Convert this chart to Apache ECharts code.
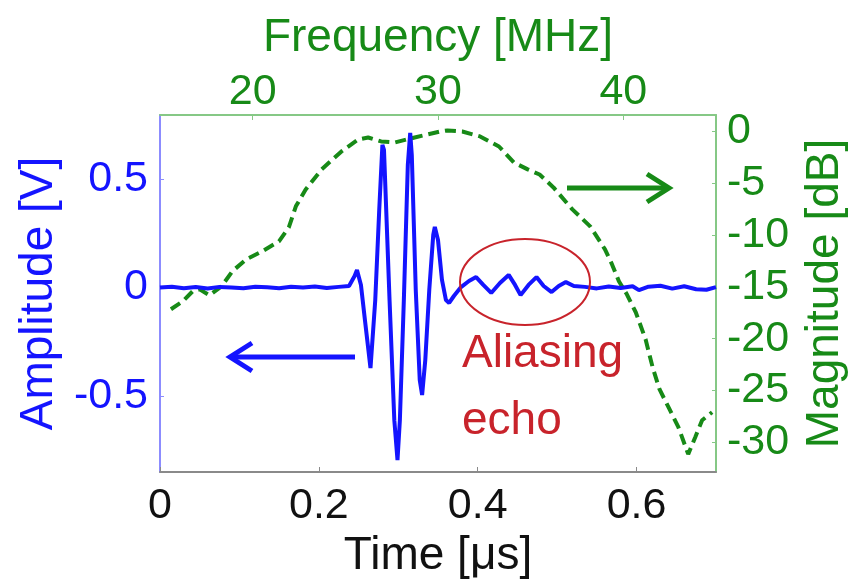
<!DOCTYPE html>
<html>
<head>
<meta charset="utf-8">
<script src="https://cdn.jsdelivr.net/npm/echarts@6/dist/echarts.min.js"></script>
<style>
  html, body { margin: 0; padding: 0; background: #fff; }
  #main { width: 856px; height: 585px; }
</style>
</head>
<body>
<div id="main"></div>
<script>
// 时域信号 (blue)
var timeUs = [0, 0.015, 0.03, 0.045, 0.06, 0.075, 0.09, 0.105, 0.12, 0.135, 0.15, 0.165, 0.18, 0.195, 0.21, 0.225, 0.238,
  0.245, 0.248, 0.253, 0.258, 0.265, 0.271, 0.276, 0.28, 0.282, 0.289, 0.295, 0.299, 0.302, 0.307, 0.312, 0.315, 0.317,
  0.322, 0.327, 0.33, 0.334, 0.339, 0.344, 0.346, 0.35, 0.355, 0.36, 0.364, 0.37, 0.379, 0.389, 0.398, 0.407, 0.417,
  0.428, 0.439, 0.447, 0.454, 0.464, 0.474, 0.483, 0.493, 0.502, 0.511, 0.521, 0.535, 0.55, 0.565, 0.58, 0.595, 0.603,
  0.615, 0.63, 0.645, 0.66, 0.675, 0.688, 0.7];
var ampV = [0, 0.004, -0.003, 0.002, -0.004, 0.003, 0, -0.003, 0.004, 0.001, -0.003, 0.004, 0, 0.005, -0.002, 0.003, 0.007,
  0.053, 0.081, 0.012, -0.15, -0.371, -0.058, 0.357, 0.657, 0.634, -0.058, -0.611, -0.795, -0.611, -0.058, 0.565, 0.712, 0.611,
  -0.012, -0.426, -0.495, -0.334, -0.012, 0.242, 0.279, 0.219, 0.035, -0.058, -0.071, -0.039, 0.002, 0.03, 0.048, 0.012, -0.025,
  0.021, 0.058, 0.012, -0.035, 0.012, 0.048, 0.007, -0.021, 0.007, 0.025, 0.007, 0.003, -0.004, 0.005, -0.002, 0.006, -0.012,
  0.004, 0.008, -0.005, 0.006, -0.008, -0.01, 0.002];

// 频谱 (green dashed)
var freqMHz = [15.59, 16.23, 16.76, 17.14, 17.67, 18.32, 18.9, 19.65, 20.51, 21.42, 21.95, 22.33, 22.86, 23.72, 24.79, 25.7,
  26.23, 26.93, 27.67, 28.74, 30.13, 30.51, 31.31, 32.27, 33.29, 34.09, 34.84, 35.48, 36.23, 37.25, 38.21, 39.01, 39.39,
  39.76, 40.19, 40.67, 41.2, 41.58, 41.95, 42.49, 42.97, 43.5, 43.88, 44.25, 44.79];
var magDb = [-17.16, -16.39, -15.43, -15.24, -15.81, -14.95, -13.5, -12.34, -11.57, -10.61, -9.26, -7.23, -5.59, -3.66, -1.93,
  -0.77, -0.58, -0.96, -1.06, -0.58, 0, 0.1, 0, -0.48, -1.45, -2.99, -3.66, -4.15, -5.4, -7.52, -9.16, -11.38, -12.83,
  -14.46, -15.72, -17.45, -20.06, -22.76, -24.88, -26.81, -28.54, -31.15, -29.51, -27.87, -27.1];

// 刻度
var timeTicks = [0, 0.2, 0.4, 0.6];
var freqTicks = [20, 30, 40];
var ampTicks = [-0.5, 0, 0.5];
var dbTicks = [0, -5, -10, -15, -20, -25, -30];

var BLUE = '#1414ff';
var GREEN = '#178a17';
var RED = '#c8232b';
var FONT = '"Liberation Sans", Arial, sans-serif';

var chart = echarts.init(document.getElementById('main'));

var timeData = timeUs.map(function (t, i) { return [t, ampV[i]]; });
var freqData = freqMHz.map(function (f, i) { return [f, magDb[i]]; });

var option = {
  backgroundColor: '#fff',
  animation: false,
  textStyle: { fontFamily: FONT },
  grid: { left: 160, right: 133, top: 115, bottom: 113, containLabel: false },
  xAxis: [
    {
      type: 'value', position: 'bottom', min: 0, max: 0.7,
      name: 'Time [\u03bcs]', nameLocation: 'middle', nameGap: 43,
      nameTextStyle: { color: '#111', fontSize: 46, fontFamily: FONT },
      axisLine: { onZero: false, lineStyle: { color: '#8a8a8a', width: 2 } },
      axisTick: { inside: true, length: 5, customValues: timeTicks, lineStyle: { color: '#8a8a8a' } },
      axisLabel: { customValues: timeTicks, color: '#111', fontSize: 43, margin: 13, fontFamily: FONT },
      splitLine: { show: false }
    },
    {
      type: 'value', position: 'top', min: 15, max: 45,
      name: 'Frequency [MHz]', nameLocation: 'middle', nameGap: 54,
      nameTextStyle: { color: GREEN, fontSize: 46, fontFamily: FONT },
      axisLine: { onZero: false, lineStyle: { color: '#86c886', width: 2 } },
      axisTick: { inside: true, length: 5, customValues: freqTicks, lineStyle: { color: '#86c886' } },
      axisLabel: { customValues: freqTicks, color: GREEN, fontSize: 43, margin: 1, fontFamily: FONT },
      splitLine: { show: false }
    }
  ],
  yAxis: [
    {
      type: 'value', position: 'left', min: -0.85, max: 0.795,
      name: 'Amplitude [V]', nameLocation: 'middle', nameGap: 98, nameRotate: 90,
      nameTextStyle: { color: BLUE, fontSize: 46, fontFamily: FONT },
      axisLine: { show: true, onZero: false, lineStyle: { color: '#8c8cff', width: 2 } },
      axisTick: { show: true, inside: true, length: 4, customValues: ampTicks, lineStyle: { color: '#8c8cff' } },
      axisLabel: { customValues: ampTicks, color: BLUE, fontSize: 43, margin: 12, fontFamily: FONT },
      splitLine: { show: false }
    },
    {
      type: 'value', position: 'right', min: -32.87, max: 1.59,
      name: 'Magnitude [dB]', nameLocation: 'middle', nameGap: 86, nameRotate: 90,
      nameTextStyle: { color: GREEN, fontSize: 46, fontFamily: FONT },
      axisLine: { show: true, onZero: false, lineStyle: { color: '#86c886', width: 2 } },
      axisTick: { show: true, inside: true, length: 4, customValues: dbTicks, lineStyle: { color: '#86c886' } },
      axisLabel: { customValues: dbTicks, color: GREEN, fontSize: 43, margin: 11, fontFamily: FONT },
      splitLine: { show: false }
    }
  ],
  series: [
    {
      name: 'Amplitude', type: 'line', xAxisIndex: 0, yAxisIndex: 0,
      data: timeData, showSymbol: false, smooth: false,
      lineStyle: { color: BLUE, width: 4 }, z: 3
    },
    {
      name: 'Magnitude', type: 'line', xAxisIndex: 1, yAxisIndex: 1,
      data: freqData, showSymbol: false, smooth: false,
      lineStyle: { color: GREEN, width: 4, type: [11, 6] }, z: 2
    }
  ],
  graphic: [
    // 蓝色箭头
    { type: 'line', shape: { x1: 355, y1: 357, x2: 232, y2: 357 }, style: { stroke: BLUE, lineWidth: 5 } },
    { type: 'polyline', shape: { points: [[252, 343], [230, 357], [252, 371]] }, style: { stroke: BLUE, lineWidth: 5, fill: null } },
    // 绿色箭头
    { type: 'line', shape: { x1: 567, y1: 188, x2: 666, y2: 188 }, style: { stroke: GREEN, lineWidth: 5 } },
    { type: 'polyline', shape: { points: [[647, 174], [669, 188], [647, 202]] }, style: { stroke: GREEN, lineWidth: 5, fill: null } },
    // 红色椭圆
    { type: 'ellipse', shape: { cx: 525, cy: 282, rx: 65, ry: 43 }, style: { stroke: RED, lineWidth: 2, fill: null }, z: 10 },
    { type: 'text', x: 462, y: 354, style: { text: 'Aliasing', fill: RED, font: '46px ' + FONT, verticalAlign: 'middle' } },
    { type: 'text', x: 462, y: 421, style: { text: 'echo', fill: RED, font: '46px ' + FONT, verticalAlign: 'middle' } }
  ]
};

chart.setOption(option);
</script>
</body>
</html>
